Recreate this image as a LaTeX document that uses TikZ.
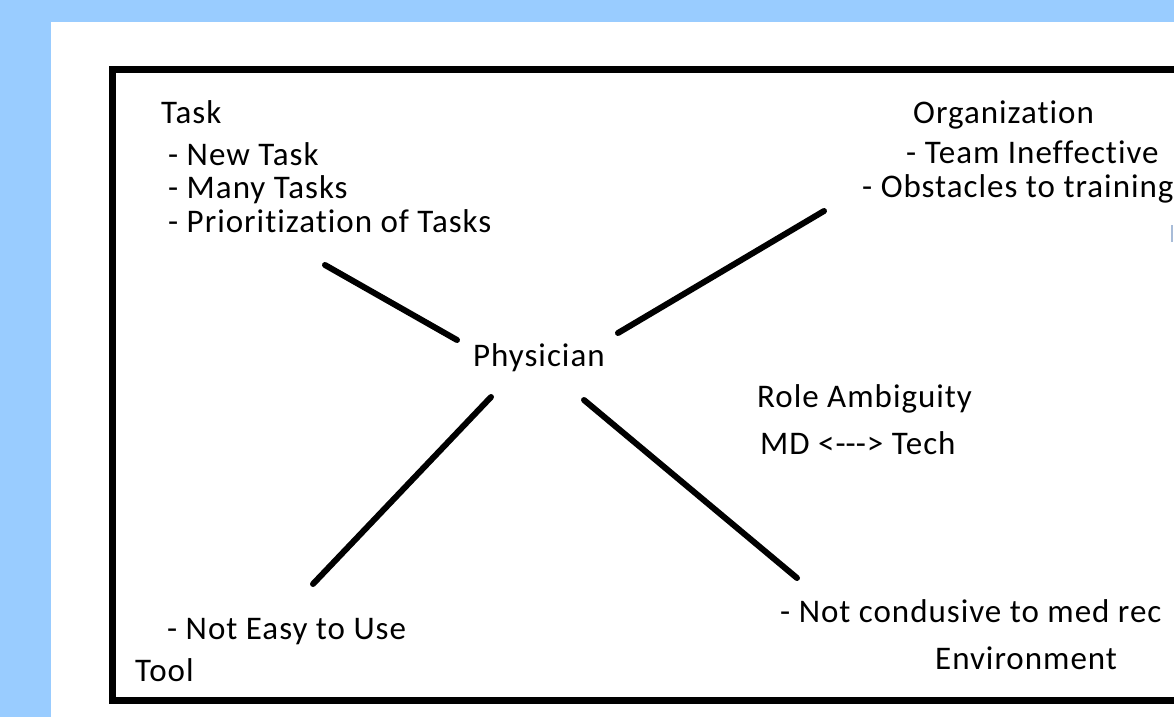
\documentclass[tikz,border=0pt]{standalone}
\usepackage{fontspec}
\setmainfont{Carlito}[Ligatures={NoCommon}, LetterSpace=3]
\definecolor{skyblue}{HTML}{99CCFF}
\definecolor{caret}{HTML}{A8BCD8}
\begin{document}
\begin{tikzpicture}
  [x=1pt, y=-1pt,
   txt/.style = {anchor=base west, inner sep=0pt, font=\fontsize{33}{40}\selectfont},
   spoke/.style = {line width=6pt, line cap=round}]
  \useasboundingbox (0,0) rectangle (1174,717);
  \clip (0,0) rectangle (1174,717);
  \fill[skyblue] (0,0) rectangle (1174,717);
  \fill[white] (51,22) rectangle (1174,717);
  \draw[line width=7pt] (112.5,69.5) rectangle (1190,700.5);

  \node[txt] (phys) at (473,366) {Physician};

  \node[txt] (task) at (161,123) {Task};
  \node[txt] (task1) at (168,165) {- New Task};
  \node[txt] (task2) at (168,198) {- Many Tasks};
  \node[txt] (task3) at (168,232) {- Prioritization of Tasks};

  \node[txt] (org) at (913,123) {Organization};
  \node[txt] (org1) at (906,163) {- Team Ineffective};
  \node[txt] (org2) at (862,197) {- Obstacles to training};

  \node[txt] (role) at (757,407) {Role Ambiguity};
  \node[txt] (md) at (760,454) {MD <-\kern0pt-\kern0pt-> Tech};

  \node[txt] (tool1) at (167,639) {- Not Easy to Use};
  \node[txt] (tool) at (135,681) {Tool};

  \node[txt] (env1) at (780,622) {- Not condusive to med rec};
  \node[txt] (env) at (935,669) {Environment};

  \coordinate (1) at (457,340);
  \coordinate (2) at (325,265);
  \coordinate (3) at (618,333);
  \coordinate (4) at (824,211);
  \coordinate (5) at (491,397);
  \coordinate (6) at (313,584);
  \coordinate (7) at (584,400);
  \coordinate (8) at (797,578);
  \draw[spoke] (1) -- (2);
  \draw[spoke] (3) -- (4);
  \draw[spoke] (5) -- (6);
  \draw[spoke] (7) -- (8);

  \draw[caret, line width=1.2pt] (1172,225) -- (1172,242);
\end{tikzpicture}
\end{document}
